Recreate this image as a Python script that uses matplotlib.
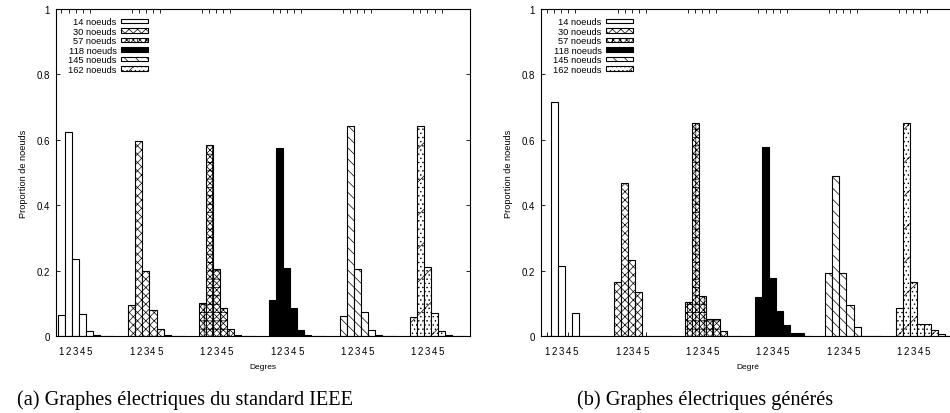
import matplotlib
matplotlib.use('Agg')
import matplotlib.pyplot as plt
from matplotlib.patches import Patch
import numpy as np

# proportion of nodes having degree 1..8, one list per network size
labels = ['14 noeuds', '30 noeuds', '57 noeuds', '118 noeuds', '145 noeuds', '162 noeuds']
degree_ticks = ['1', '2', '3', '4', '5']

ieee_14 = [0.064, 0.622, 0.235, 0.068, 0.015, 0.004, 0.002, 0.0]
ieee_30 = [0.096, 0.595, 0.200, 0.080, 0.022, 0.005, 0.002, 0.0]
ieee_57 = [0.102, 0.584, 0.205, 0.085, 0.022, 0.004, 0.002, 0.0]
ieee_118 = [0.110, 0.575, 0.209, 0.087, 0.020, 0.004, 0.002, 0.0]
ieee_145 = [0.061, 0.641, 0.204, 0.073, 0.020, 0.004, 0.001, 0.0]
ieee_162 = [0.059, 0.641, 0.211, 0.071, 0.016, 0.004, 0.002, 0.0]

gen_14 = [0.0, 0.714, 0.214, 0.0, 0.071, 0.0, 0.0, 0.0]
gen_30 = [0.167, 0.467, 0.234, 0.134, 0.0, 0.0, 0.0, 0.0]
gen_57 = [0.106, 0.651, 0.122, 0.052, 0.052, 0.017, 0.0, 0.0]
gen_118 = [0.120, 0.577, 0.179, 0.078, 0.035, 0.009, 0.009, 0.0]
gen_145 = [0.193, 0.490, 0.193, 0.096, 0.027, 0.0, 0.0, 0.0]
gen_162 = [0.085, 0.651, 0.167, 0.036, 0.036, 0.018, 0.006, 0.0]

fills = [('white', ''), ('white', 'xxxx'), ('white', 'xxxxx++'),
         ('black', ''), ('white', '\\\\\\'), ('white', '/....')]

plt.rcParams['font.family'] = ['Liberation Sans', 'DejaVu Sans']
plt.rcParams['hatch.linewidth'] = 0.5
plt.rcParams['axes.linewidth'] = 0.8


def draw_panel(ax, series, xlabel, x0):
    for g, values in enumerate(series):
        color, hatch = fills[g]
        x = 10 * g + np.arange(1, len(values) + 1)
        ax.bar(x, values, width=1.0, color=color, edgecolor='black',
               hatch=hatch, linewidth=0.8)
    ticks = [10 * g + d for g in range(len(series)) for d in range(1, 6)]
    ax.set_xticks(ticks)
    ax.set_xticklabels(degree_ticks * len(series))
    ax.set_yticks([0, 0.2, 0.4, 0.6, 0.8, 1])
    ax.set_yticklabels(['0', '0.2', '0.4', '0.6', '0.8', '1'])
    ax.set_xlim(x0, x0 + 58.75)
    ax.set_ylim(0, 1)
    ax.set_axisbelow(True)
    ax.tick_params(direction='in', top=True, right=True, length=3,
                   width=0.6, labelsize=7, pad=4.5)
    ax.tick_params(axis='x', pad=7)
    ax.set_xlabel(xlabel, fontsize=6, labelpad=5)
    ax.set_ylabel('Proportion de noeuds', fontsize=6.6, labelpad=6)
    handles = [Patch(facecolor=c, edgecolor='black', hatch=h, linewidth=0.8)
               for c, h in fills]
    ax.legend(handles, labels, loc='upper right', bbox_to_anchor=(0.233, 0.987),
              markerfirst=False, frameon=False, fontsize=6.7, borderpad=0,
              handlelength=2.85, handleheight=0.4, handletextpad=0.5,
              labelspacing=0.05)


fig = plt.figure(figsize=(9.5, 4.14), dpi=100)
ax1 = fig.add_axes([56 / 950, 76.7 / 414, 413.5 / 950, 327.8 / 414])
ax2 = fig.add_axes([541 / 950, 76.7 / 414, 413.5 / 950, 327.8 / 414])

draw_panel(ax1, [ieee_14, ieee_30, ieee_57, ieee_118, ieee_145, ieee_162], 'Degres', 0.22)
draw_panel(ax2, [gen_14, gen_30, gen_57, gen_118, gen_145, gen_162], 'Degré', 0.1)

fig.text(185 / 950, 0.034, '(a) Graphes électriques du standard IEEE',
         family='Liberation Serif', fontsize=14.6, ha='center', va='center')
fig.text(705 / 950, 0.034, '(b) Graphes électriques générés',
         family='Liberation Serif', fontsize=14.6, ha='center', va='center')

fig.savefig('out.png', dpi=100)
